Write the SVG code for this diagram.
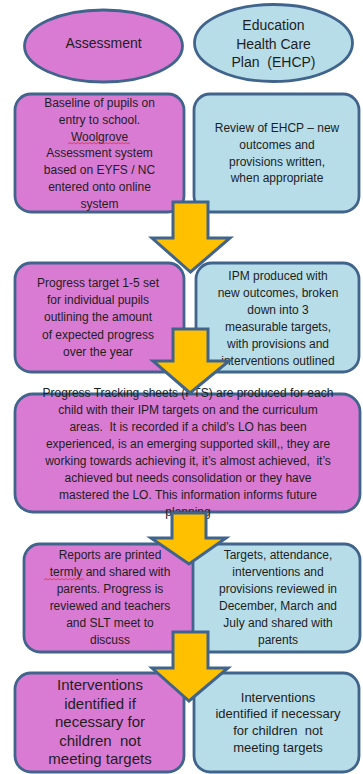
<svg xmlns="http://www.w3.org/2000/svg" width="363" height="774" viewBox="0 0 363 774">
  <style>
    .pink { fill: #D97BD3; stroke: #41648C; stroke-width: 2.8; }
    .blue { fill: #B7DDE8; stroke: #41648C; stroke-width: 2.8; }
    .arrow { fill: #FFC000; stroke: #41648C; stroke-width: 3; stroke-linejoin: miter; }
    .t { font-family: "Liberation Sans", Arial, sans-serif; font-size: 12px; fill: #1E1E1E; text-anchor: middle; white-space: pre; }
    .h { font-size: 14px; }
    .l { font-size: 15px; }
    .m { font-size: 13px; }
    .squig { fill: none; stroke: #E03030; stroke-width: 0.8; }
  </style>
  <rect width="363" height="774" fill="#FFFFFF"/>

  <g id="assessment">
    <ellipse class="pink" cx="103.5" cy="46" rx="79" ry="36"/>
    <text class="t h" x="103.5" y="48">Assessment</text>
  </g>

  <g id="ehcp">
    <ellipse class="blue" cx="273.5" cy="43" rx="79" ry="38.5"/>
    <text class="t h" x="273.5" y="30" xml:space="preserve">Education<tspan x="273.5" dy="18.5">Health Care</tspan><tspan x="273.5" dy="18.5">Plan  (EHCP)</tspan></text>
  </g>

  <g id="baseline">
    <rect class="pink" x="15" y="94" width="169" height="118" rx="16"/>
    <text class="t" x="99.5" y="107">Baseline of pupils on<tspan x="99.5" dy="16.8">entry to school.</tspan><tspan x="99.5" dy="16.8">Woolgrove</tspan><tspan x="99.5" dy="16.8">Assessment system</tspan><tspan x="99.5" dy="16.8">based on EYFS / NC</tspan><tspan x="99.5" dy="16.8">entered onto online</tspan><tspan x="99.5" dy="16.8">system</tspan></text>
    <path class="squig" d="M68 144 l2 -1.5 l2 1.5 l2 -1.5 l2 1.5 l2 -1.5 l2 1.5 l2 -1.5 l2 1.5 l2 -1.5 l2 1.5 l2 -1.5 l2 1.5 l2 -1.5 l2 1.5 l2 -1.5 l2 1.5 l2 -1.5 l2 1.5 l2 -1.5 l2 1.5 l2 -1.5 l2 1.5 l2 -1.5 l2 1.5 l2 -1.5 l2 1.5 l2 -1.5 l2 1.5 l2 -1.5 l2 1.5 l2 -1.5"/>
  </g>

  <g id="review">
    <rect class="blue" x="194" y="94" width="165" height="118" rx="16"/>
    <text class="t" x="277" y="132">Review of EHCP – new<tspan x="277" dy="16.8">outcomes and</tspan><tspan x="277" dy="16.8">provisions written,</tspan><tspan x="277" dy="16.8">when appropriate</tspan></text>
  </g>

  <g id="target">
    <rect class="pink" x="15" y="263" width="169" height="109" rx="16"/>
    <text class="t" x="98" y="287">Progress target 1-5 set<tspan x="98" dy="17.2">for individual pupils</tspan><tspan x="98" dy="17.2">outlining the amount</tspan><tspan x="98" dy="17.2">of expected progress</tspan><tspan x="98" dy="17.2">over the year</tspan></text>
  </g>

  <g id="ipm">
    <rect class="blue" x="196" y="263" width="163" height="109" rx="16"/>
    <text class="t" x="278" y="280">IPM produced with<tspan x="278" dy="17">new outcomes, broken</tspan><tspan x="278" dy="17">down into 3</tspan><tspan x="278" dy="17">measurable targets,</tspan><tspan x="278" dy="17">with provisions and</tspan><tspan x="278" dy="17">interventions outlined</tspan></text>
  </g>

  <g id="tracking">
    <rect class="pink" x="15" y="394" width="345" height="118" rx="18"/>
    <text class="t" x="188" y="397" xml:space="preserve">Progress Tracking sheets (PTS) are produced for each<tspan x="188" dy="17">child with their IPM targets on and the curriculum</tspan><tspan x="188" dy="17">areas.  It is recorded if a child’s LO has been</tspan><tspan x="188" dy="17">experienced, is an emerging supported skill,, they are</tspan><tspan x="188" dy="17">working towards achieving it, it’s almost achieved,  it’s</tspan><tspan x="188" dy="17">achieved but needs consolidation or they have</tspan><tspan x="188" dy="17">mastered the LO. This information informs future</tspan><tspan x="188" dy="17">planning</tspan></text>
  </g>

  <g id="reports">
    <rect class="pink" x="24" y="544" width="171" height="108" rx="16"/>
    <text class="t" x="110" y="559">Reports are printed<tspan x="110" dy="17">termly and shared with</tspan><tspan x="110" dy="17">parents. Progress is</tspan><tspan x="110" dy="17">reviewed and teachers</tspan><tspan x="110" dy="17">and SLT meet to</tspan><tspan x="110" dy="17">discuss</tspan></text>
    <path class="squig" d="M44 580 l2 -1.5 l2 1.5 l2 -1.5 l2 1.5 l2 -1.5 l2 1.5 l2 -1.5 l2 1.5 l2 -1.5 l2 1.5 l2 -1.5 l2 1.5 l2 -1.5 l2 1.5 l2 -1.5 l2 1.5 l2 -1.5 l2 1.5 l2 -1.5 l2 1.5"/>
  </g>

  <g id="reviewed">
    <rect class="blue" x="193" y="544" width="167" height="108" rx="16"/>
    <text class="t" x="278" y="559">Targets, attendance,<tspan x="278" dy="17">interventions and</tspan><tspan x="278" dy="17">provisions reviewed in</tspan><tspan x="278" dy="17">December, March and</tspan><tspan x="278" dy="17">July and shared with</tspan><tspan x="278" dy="17">parents</tspan></text>
  </g>

  <g id="interventions-assessment">
    <rect class="pink" x="15" y="673" width="169" height="99" rx="16"/>
    <text class="t l" x="100" y="690" xml:space="preserve">Interventions<tspan x="100" dy="18.5">identified if</tspan><tspan x="100" dy="18.5">necessary for</tspan><tspan x="100" dy="18.5">children  not</tspan><tspan x="100" dy="18.5">meeting targets</tspan></text>
  </g>

  <g id="interventions-ehcp">
    <rect class="blue" x="194" y="673" width="165" height="99" rx="16"/>
    <text class="t m" x="278" y="701.5" xml:space="preserve">Interventions<tspan x="278" dy="16.8">identified if necessary</tspan><tspan x="278" dy="16.8">for children  not</tspan><tspan x="278" dy="16.8">meeting targets</tspan></text>
  </g>

  <g id="connectors">
    <path class="arrow" d="M173 202 H208 V238 H230 L190.5 272 L152 238 H173 Z"/>
    <path class="arrow" d="M173 329 H208 V361 H229 L190 393 L153 361 H173 Z"/>
    <path class="arrow" d="M172 513 H206 V538 H226 L189 564 L151 538 H172 Z"/>
    <path class="arrow" d="M173 632 H208 V668 H228 L189 701 L152 668 H173 Z"/>
  </g>
</svg>
